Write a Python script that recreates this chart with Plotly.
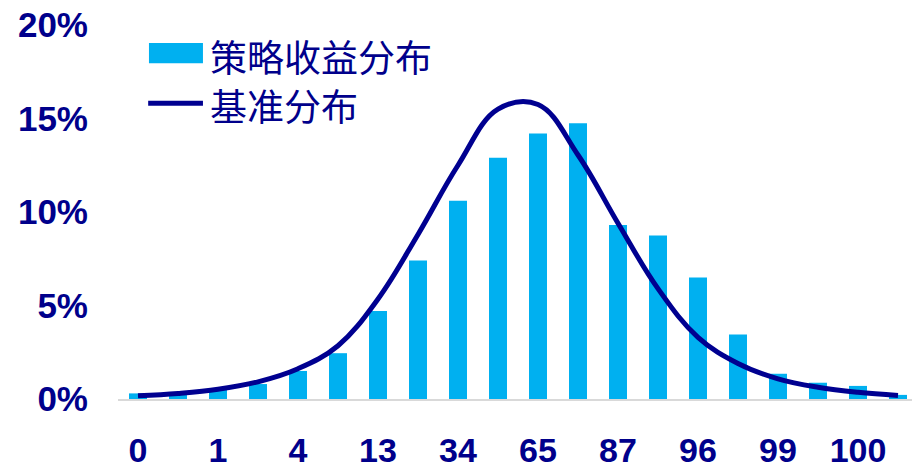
import plotly.graph_objects as go

# Data
categories = list(range(20))
tick_positions = [0, 2, 4, 6, 8, 10, 12, 14, 16, 18]
tick_labels = ["0", "1", "4", "13", "34", "65", "87", "96", "99", "100"]
strategy_dist = [0.3, 0.25, 0.5, 0.8, 1.5, 2.45, 4.7, 7.4, 10.6, 12.9,
                 14.2, 14.75, 9.3, 8.75, 6.5, 3.45, 1.35, 0.87, 0.7, 0.22]
benchmark_dist = [0.17, 0.3, 0.52, 0.92, 1.62, 2.85, 5.35, 8.8, 12.5, 15.5,
                  15.75, 13.05, 9.4, 5.9, 3.3, 1.9, 1.08, 0.63, 0.36, 0.19]
y_ticks = [0, 5, 10, 15, 20]
y_tick_labels = ["0%", "5%", "10%", "15%", "20%"]

NAVY = "#00008B"
BAR = "#00B0F0"

fig = go.Figure()
fig.add_trace(go.Bar(x=categories, y=strategy_dist, name="策略收益分布",
                     marker=dict(color=BAR, line=dict(width=0)), showlegend=False))
fig.add_trace(go.Scatter(x=categories, y=benchmark_dist, name="基准分布", mode="lines",
                         line=dict(color="#000090", width=5, shape="spline", smoothing=1.1),
                         showlegend=False))

tick_font = dict(family="Liberation Sans, Arial, sans-serif", size=35, color=NAVY, weight="bold")

fig.update_layout(
    width=912, height=469,
    margin=dict(l=118, r=0, t=25, b=70),
    paper_bgcolor="white", plot_bgcolor="white",
    bargap=0.55,
    xaxis=dict(range=[-0.5, 19.35], tickmode="array", tickvals=tick_positions,
               ticktext=tick_labels, showgrid=False, zeroline=False,
               showline=True, linecolor="#D9D9D9", linewidth=2,
               ticks="", tickfont=dict(tick_font, size=34), ticklabelstandoff=20),
    yaxis=dict(range=[0, 20], tickmode="array", tickvals=y_ticks, ticktext=y_tick_labels,
               showgrid=False, zeroline=False, showline=False, ticks="",
               tickfont=tick_font, ticklabelstandoff=29),
)

# Legend drawn manually to match the wide swatches of the reference
fig.add_shape(type="rect", xref="paper", yref="paper",
              x0=0.039, x1=0.107, y0=0.898, y1=0.952,
              fillcolor=BAR, line=dict(width=0))
fig.add_shape(type="line", xref="paper", yref="paper",
              x0=0.038, x1=0.107, y0=0.791, y1=0.791,
              line=dict(color="#000090", width=5))
legend_font = dict(family="Noto Sans CJK SC, sans-serif", size=37, color=NAVY)
fig.add_annotation(text="策略收益分布", xref="paper", yref="paper", x=0.113, y=0.917,
                   xanchor="left", yanchor="middle", showarrow=False, font=legend_font)
fig.add_annotation(text="基准分布", xref="paper", yref="paper", x=0.113, y=0.785,
                   xanchor="left", yanchor="middle", showarrow=False, font=legend_font)

fig.write_html("out.html")
